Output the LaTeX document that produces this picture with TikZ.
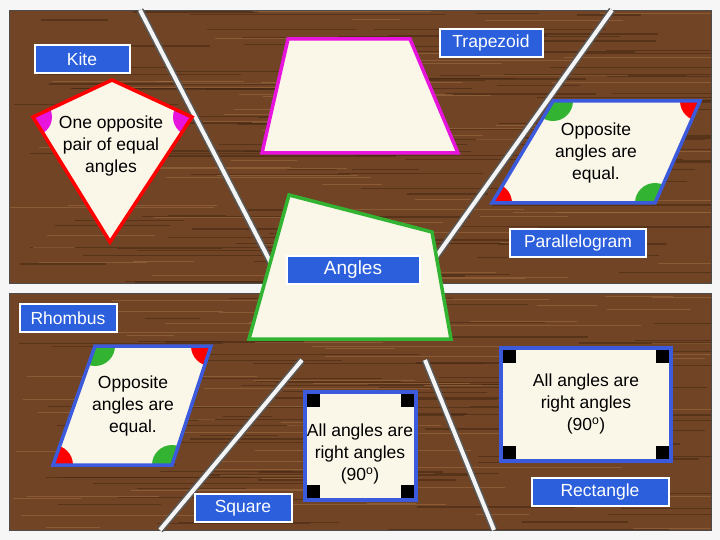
\documentclass[tikz,border=0pt]{standalone}
\usepackage{fontspec}
\setmainfont{Liberation Sans}
\begin{document}
\begin{tikzpicture}[x=1pt,y=-1pt,
  lbl/.style={draw=white,line width=2pt,fill={rgb,255:red,43;green,95;blue,220},text=white,font=\fontsize{17.5}{20}\selectfont,minimum height=28pt,inner sep=2pt},
  card/.style={fill={rgb,255:red,250;green,246;blue,232},line width=3.5pt,line join=miter},
  txt/.style={align=center,font=\fontsize{17.5}{22}\selectfont},
  rail/.style={line width=7pt,draw=gray!70!black,line cap=butt},
  railin/.style={line width=4pt,draw=white!92!gray}]
\definecolor{wood}{RGB}{112,68,36}
\definecolor{mag}{RGB}{230,20,220}
\definecolor{bl}{RGB}{60,90,220}
\definecolor{gr}{RGB}{50,180,50}
\useasboundingbox (0,0) rectangle (720,540);
\fill[white!93!gray] (0,0) rectangle (720,540);
\fill[wood] (9,10) rectangle (711,283);
\fill[wood] (9,293) rectangle (711,530);
\pgfmathsetseed{7}
\foreach \i in {1,...,200}{
  \pgfmathsetmacro{\yy}{rnd*520+10}
  \pgfmathsetmacro{\xx}{rnd*650+9}
  \pgfmathsetmacro{\ll}{rnd*250+40}
  \draw[line width=1.3pt,draw={rgb,255:red,70;green,40;blue,18},opacity=0.6] (\xx,\yy) -- ({min(\xx+\ll,711)},\yy);
}
\foreach \i in {1,...,120}{
  \pgfmathsetmacro{\yy}{rnd*520+10}
  \pgfmathsetmacro{\xx}{rnd*650+9}
  \pgfmathsetmacro{\ll}{rnd*200+40}
  \draw[line width=1pt,draw={rgb,255:red,165;green,115;blue,70},opacity=0.5] (\xx,\yy) -- ({min(\xx+\ll,711)},\yy);
}
\fill[white!93!gray] (0,0) rectangle (720,10) (0,530) rectangle (720,540) (0,0) rectangle (9,540) (711,0) rectangle (720,540) (9,283) rectangle (711,293);
\draw[gray!60!black,line width=0.6pt] (9,10) rectangle (711,283) (9,293) rectangle (711,530);
% rails
\coordinate (r1a) at (140,10); \coordinate (r1b) at (290,300);
\coordinate (r2a) at (612,10); \coordinate (r2b) at (398,310);
\coordinate (r3a) at (302,360); \coordinate (r3b) at (160,530);
\coordinate (r4a) at (425,360); \coordinate (r4b) at (494,530);
\foreach \a/\b in {r1a/r1b,r2a/r2b,r3a/r3b,r4a/r4b}{
  \draw[rail] (\a) -- (\b); \draw[railin] (\a) -- (\b);}
% kite
\coordinate (k1) at (112,80); \coordinate (k2) at (192,117); \coordinate (k3) at (110,242); \coordinate (k4) at (33,117);
\fill[card] (k1)--(k2)--(k3)--(k4)--cycle;
\begin{scope}\clip (k1)--(k2)--(k3)--(k4)--cycle;
\fill[mag] (k2) circle (19pt); \fill[mag] (k4) circle (19pt);\end{scope}
\draw[card,fill=none,draw=red] (k1)--(k2)--(k3)--(k4)--cycle;
\node[txt] (kt) at (111,146) {One opposite\\pair of equal\\angles};
% trapezoid
\draw[card,draw=mag] (288,39)--(410,39)--(458,153)--(262,153)--cycle;
% parallelogram
\coordinate (p1) at (553,101); \coordinate (p2) at (700,101); \coordinate (p3) at (655,203); \coordinate (p4) at (492,203);
\fill[card] (p1)--(p2)--(p3)--(p4)--cycle;
\begin{scope}\clip (p1)--(p2)--(p3)--(p4)--cycle;
\fill[gr] (p1) circle (20pt); \fill[red] (p2) circle (20pt); \fill[gr] (p3) circle (20pt); \fill[red] (p4) circle (20pt);\end{scope}
\draw[card,fill=none,draw=bl] (p1)--(p2)--(p3)--(p4)--cycle;
\node[txt] (pt) at (596,153) {Opposite\\angles are\\equal.};
% central green
\draw[card,draw=gr] (289,195)--(432,232)--(451,339)--(249,339)--cycle;
% rhombus
\coordinate (h1) at (95,346); \coordinate (h2) at (211,346); \coordinate (h3) at (172,465); \coordinate (h4) at (53,465);
\fill[card] (h1)--(h2)--(h3)--(h4)--cycle;
\begin{scope}\clip (h1)--(h2)--(h3)--(h4)--cycle;
\fill[gr] (h1) circle (20pt); \fill[red] (h2) circle (20pt); \fill[gr] (h3) circle (20pt); \fill[red] (h4) circle (20pt);\end{scope}
\draw[card,fill=none,draw=bl] (h1)--(h2)--(h3)--(h4)--cycle;
\node[txt] (ht) at (133,406) {Opposite\\angles are\\equal.};
% square
\draw[card,draw=bl] (305,392) rectangle (416,500);
\foreach \x/\y in {307/394,401/394,307/485,401/485}{\fill[black] (\x,\y) rectangle ++(13,13);}
\node[txt] (st) at (360,454) {All angles are\\right angles\\(90\textsuperscript{o})};
% rectangle
\draw[card,draw=bl] (501,348) rectangle (671,461);
\foreach \x/\y in {503/350,656/350,503/446,656/446}{\fill[black] (\x,\y) rectangle ++(13,13);}
\node[txt] (rt) at (586,404) {All angles are\\right angles\\(90\textsuperscript{o})};
% labels
\node[lbl,minimum width=95pt] (kite) at (82,59) {Kite};
\node[lbl,minimum width=103pt] (trap) at (491,43) {Trapezoid};
\node[lbl,minimum width=136pt] (para) at (578,243) {Parallelogram};
\node[lbl,minimum width=133pt,font=\fontsize{19}{21}\selectfont] (ang) at (353,270) {Angles};
\node[lbl,minimum width=97pt] (rho) at (68,318) {Rhombus};
\node[lbl,minimum width=97pt] (sq) at (243,508) {Square};
\node[lbl,minimum width=137pt] (rec) at (600,492) {Rectangle};
\end{tikzpicture}
\end{document}
